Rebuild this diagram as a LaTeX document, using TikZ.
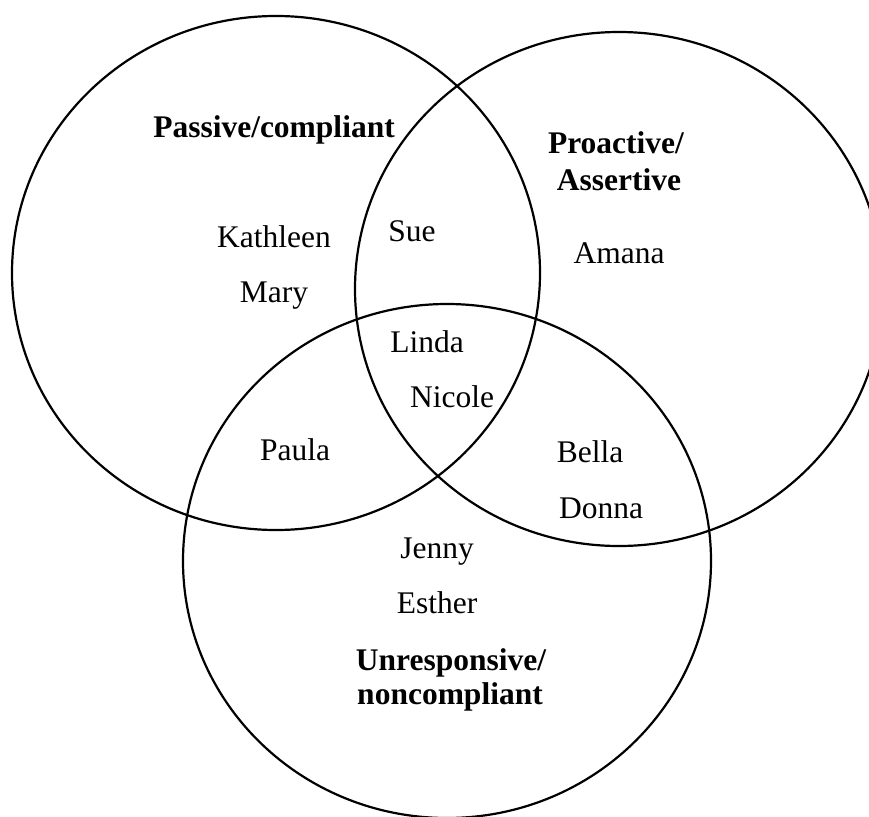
\documentclass[tikz,border=0pt]{standalone}
\usepackage{fontspec}
\setmainfont{Liberation Serif}
\begin{document}
\begin{tikzpicture}[x=1pt,y=-1pt,
  ring/.style={draw=black,line width=2.2pt},
  membertext/.style={anchor=base,inner sep=0pt,font=\fontsize{31.5}{38}\selectfont},
  titletext/.style={anchor=base,inner sep=0pt,font=\fontsize{31.5}{38}\selectfont\bfseries}]
\useasboundingbox (0,0) rectangle (869,816);
\begin{scope}
\clip (0,0) rectangle (869,816);
% the three sets
\draw[ring] (276,273) ellipse [x radius=264,y radius=257];
\draw[ring] (619,289) ellipse [x radius=264,y radius=257];
\draw[ring] (447,561) ellipse [x radius=264,y radius=257];
\end{scope}
% set titles
\node[titletext] (passive) at (274,137) {Passive/compliant};
\node[titletext] (proactive1) at (616,153) {Proactive/};
\node[titletext] (proactive2) at (619,190) {Assertive};
\node[titletext] (unresp1) at (451,670) {Unresponsive/};
\node[titletext] (unresp2) at (450,704) {noncompliant};
% members
\node[membertext] (kathleen) at (274,247) {Kathleen};
\node[membertext] (mary) at (274,302) {Mary};
\node[membertext] (sue) at (412,241) {Sue};
\node[membertext] (amana) at (619,263) {Amana};
\node[membertext] (linda) at (427,352) {Linda};
\node[membertext] (nicole) at (452,407) {Nicole};
\node[membertext] (paula) at (295,460) {Paula};
\node[membertext] (bella) at (590,462) {Bella};
\node[membertext] (donna) at (601,518) {Donna};
\node[membertext] (jenny) at (437,558) {Jenny};
\node[membertext] (esther) at (437,613) {Esther};
\end{tikzpicture}
\end{document}
